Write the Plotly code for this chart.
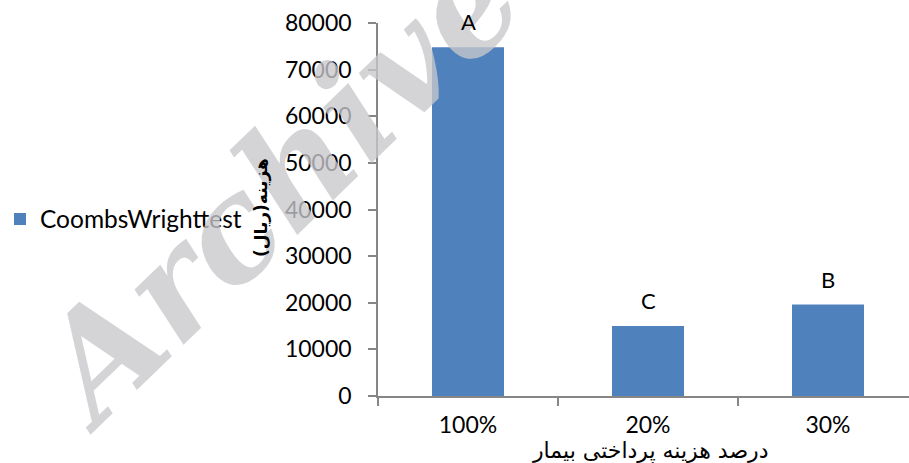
import plotly.graph_objects as go

# Data
categories = ["100%", "20%", "30%"]
costs = [74800, 15000, 19600]
group_letters = ["A", "C", "B"]
series_name = "CoombsWrighttest"
y_ticks = [0, 10000, 20000, 30000, 40000, 50000, 60000, 70000, 80000]

W, H = 909, 463
left, right, top, bottom = 378, 0, 23, 67
plot_w = W - left - right
plot_h = H - top - bottom
cat_px = 180  # pixel width of one category slot

BAR_BLUE = "#4F81BD"
AXIS_GRAY = "#868686"
LATIN_FONT = "Lato"
ARABIC_FONT = "DejaVu Sans"
SERIF_FONT = "DejaVu Serif"


def px_x(px):
    return (px - left) / plot_w


def px_y(py):
    return (H - bottom - py) / plot_h


fig = go.Figure()
fig.add_trace(go.Bar(
    x=categories,
    y=costs,
    name=series_name,
    marker=dict(color=BAR_BLUE, line=dict(width=0)),
    showlegend=True,
))

annotations = []

# light watermark across the left side
annotations.append(dict(
    text="<i>Archive</i>",
    xref="paper", yref="paper",
    x=px_x(276), y=px_y(186),
    xanchor="center", yanchor="middle",
    textangle=-44,
    showarrow=False,
    font=dict(family=SERIF_FONT, size=142, weight="bold", style="italic",
              color="rgba(200,200,204,0.78)"),
))

# group letters above each bar
for cat, val, letter in zip(categories, costs, group_letters):
    annotations.append(dict(
        text=letter, x=cat, y=val, xref="x", yref="y",
        xanchor="center", yanchor="bottom", yshift=10,
        showarrow=False,
        font=dict(family=LATIN_FONT, size=22, color="#000000"),
    ))

# y-axis title (rotated)
annotations.append(dict(
    text="<b>هزینه(ریال)</b>",
    xref="paper", yref="paper",
    x=px_x(261), y=px_y(208),
    xanchor="center", yanchor="middle",
    textangle=-90, showarrow=False,
    font=dict(family=ARABIC_FONT, size=17, color="#000000"),
))

# x-axis title
annotations.append(dict(
    text="درصد هزینه پرداختی بیمار",
    xref="paper", yref="paper",
    x=px_x(650), y=px_y(451),
    xanchor="center", yanchor="middle",
    showarrow=False,
    font=dict(family=ARABIC_FONT, size=22, color="#000000"),
))

fig.update_layout(
    width=W, height=H,
    margin=dict(l=left, r=right, t=top, b=bottom, pad=0),
    paper_bgcolor="white", plot_bgcolor="white",
    bargap=0.6,
    showlegend=True,
    legend=dict(
        xref="container", yref="container",
        x=0.0, y=(H - 219) / H, xanchor="left", yanchor="middle",
        font=dict(family=LATIN_FONT, size=24.5, color="#000000"),
        bgcolor="rgba(0,0,0,0)", borderwidth=0,
    ),
    xaxis=dict(
        type="category",
        range=[-0.5, -0.5 + plot_w / cat_px],
        showline=True, linecolor=AXIS_GRAY, linewidth=1.5,
        ticks="outside", tickson="boundaries", ticklen=8, tickwidth=1.5,
        tickcolor=AXIS_GRAY,
        tickfont=dict(family=LATIN_FONT, size=23, color="#000000"),
        ticklabelstandoff=8,
        showgrid=False, zeroline=False, fixedrange=True,
    ),
    yaxis=dict(
        range=[0, 80000],
        tickvals=y_ticks,
        ticktext=[str(v) for v in y_ticks],
        showline=True, linecolor=AXIS_GRAY, linewidth=1.5,
        ticks="outside", ticklen=8, tickwidth=1.5, tickcolor=AXIS_GRAY,
        tickfont=dict(family=LATIN_FONT, size=23, color="#000000"),
        ticklabelstandoff=12,
        showgrid=False, zeroline=False, fixedrange=True,
    ),
    annotations=annotations,
)

fig.write_html("out.html")
